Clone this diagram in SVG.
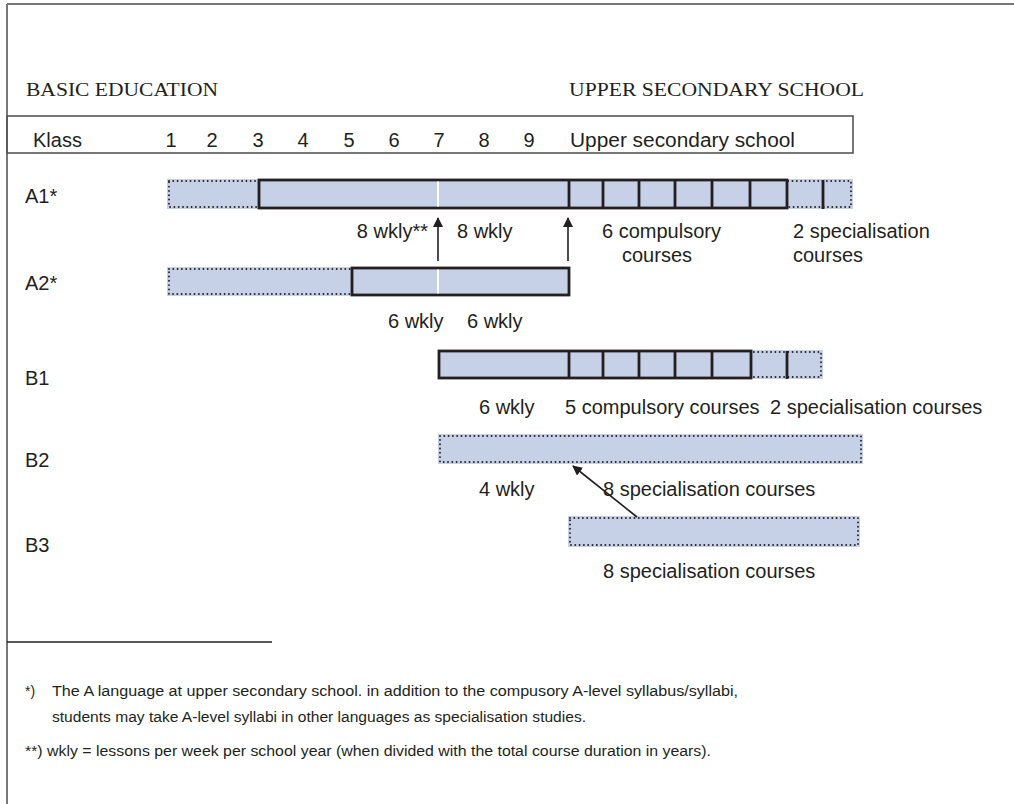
<svg xmlns="http://www.w3.org/2000/svg" width="1014" height="804" viewBox="0 0 1014 804">
<defs>
<style>
.t{font-family:"Liberation Sans",Arial,sans-serif;font-size:20px;fill:#231f20}
.h{font-family:"Liberation Serif","Times New Roman",serif;font-size:18px;fill:#231f20}
.f{font-family:"Liberation Sans",Arial,sans-serif;font-size:14px;fill:#231f20}
.fill{fill:#c6d0e7;stroke:none}
.dot{fill:none;stroke:#231f20;stroke-width:1.9;stroke-dasharray:0 4.3;stroke-linecap:round}
.sol{fill:none;stroke:#231f20;stroke-width:2.8}
.div{stroke:#231f20;stroke-width:2.8}
.wl{stroke:#ffffff;stroke-width:2}
.ar{stroke:#231f20;stroke-width:1.6;fill:none}
</style>
<marker id="ah" markerWidth="10" markerHeight="10" refX="9" refY="5" orient="auto" markerUnits="userSpaceOnUse" viewBox="0 0 10 10">
<path d="M0,0 L10,5 L0,10 z" fill="#231f20"/>
</marker>
</defs>
<rect width="1014" height="804" fill="#ffffff"/>
<g id="frame">
<line x1="7" y1="4" x2="1014" y2="4" stroke="#777" stroke-width="2"/>
<line x1="7" y1="4" x2="7" y2="804" stroke="#777" stroke-width="2"/>
</g>
<g id="headings">
<text class="h" x="26" y="96" textLength="192" lengthAdjust="spacingAndGlyphs">BASIC EDUCATION</text>
<text class="h" x="569" y="96" textLength="295" lengthAdjust="spacingAndGlyphs">UPPER SECONDARY SCHOOL</text>
</g>
<g id="header-row">
<rect x="7" y="116" width="846" height="37" fill="none" stroke="#555" stroke-width="1.6"/>
<text class="t" x="33" y="147">Klass</text>
<g text-anchor="middle">
<text class="t" x="171" y="147">1</text>
<text class="t" x="212" y="147">2</text>
<text class="t" x="258" y="147">3</text>
<text class="t" x="303" y="147">4</text>
<text class="t" x="349" y="147">5</text>
<text class="t" x="394" y="147">6</text>
<text class="t" x="439" y="147">7</text>
<text class="t" x="484" y="147">8</text>
<text class="t" x="529" y="147">9</text>
</g>
<text class="t" x="570" y="147" textLength="225" lengthAdjust="spacingAndGlyphs">Upper secondary school</text>
</g>
<g id="A1">
<text class="t" x="25" y="203">A1*</text>
<rect class="fill" x="167" y="179" width="686" height="30"/>
<rect class="dot" x="169" y="181" width="682" height="26"/>
<rect class="fill" x="259" y="180" width="528" height="28"/>
<rect class="sol" x="259" y="180" width="528" height="28"/>
<line class="wl" x1="438" y1="181.5" x2="438" y2="206.5"/>
<line class="div" x1="569" y1="180" x2="569" y2="208" stroke-width="3.4"/>
<line class="div" x1="603" y1="180" x2="603" y2="208"/>
<line class="div" x1="639" y1="180" x2="639" y2="208"/>
<line class="div" x1="675" y1="180" x2="675" y2="208"/>
<line class="div" x1="712" y1="180" x2="712" y2="208"/>
<line class="div" x1="750" y1="180" x2="750" y2="208"/>
<line class="div" x1="823" y1="180" x2="823" y2="209" stroke-width="3"/>
<text class="t" x="428" y="238" text-anchor="end">8 wkly**</text>
<text class="t" x="457" y="238">8 wkly</text>
<text class="t" x="602" y="238">6 compulsory</text>
<text class="t" x="622" y="262">courses</text>
<text class="t" x="793" y="238">2 specialisation</text>
<text class="t" x="793" y="262">courses</text>
</g>
<g id="A2">
<text class="t" x="25" y="290">A2*</text>
<rect class="fill" x="167" y="267" width="402" height="29"/>
<rect class="dot" x="169" y="269" width="398" height="25"/>
<rect class="fill" x="352" y="268" width="217" height="27"/>
<rect class="sol" x="352" y="268" width="217" height="27"/>
<line class="wl" x1="438" y1="269.5" x2="438" y2="293.5"/>
<text class="t" x="388" y="328">6  wkly</text>
<text class="t" x="467" y="328">6 wkly</text>
</g>
<g id="B1">
<text class="t" x="25" y="385">B1</text>
<rect class="fill" x="438" y="350" width="385" height="29"/>
<rect class="dot" x="440" y="352" width="381" height="25"/>
<rect class="fill" x="439" y="351" width="312" height="27"/>
<rect class="sol" x="439" y="351" width="312" height="27"/>
<line class="div" x1="569" y1="351" x2="569" y2="378"/>
<line class="div" x1="603" y1="351" x2="603" y2="378"/>
<line class="div" x1="639" y1="351" x2="639" y2="378"/>
<line class="div" x1="675" y1="351" x2="675" y2="378"/>
<line class="div" x1="712" y1="351" x2="712" y2="378"/>
<line class="div" x1="787" y1="351" x2="787" y2="379" stroke-width="3"/>
<text class="t" x="479" y="414">6 wkly</text>
<text class="t" x="565" y="414">5 compulsory courses</text>
<text class="t" x="770" y="414">2 specialisation courses</text>
</g>
<g id="B2">
<text class="t" x="25" y="467">B2</text>
<rect class="fill" x="438" y="434" width="425" height="30"/>
<rect class="dot" x="440" y="436" width="421" height="26"/>
<text class="t" x="479" y="496">4 wkly</text>
<text class="t" x="603" y="496">8 specialisation courses</text>
</g>
<g id="B3">
<text class="t" x="25" y="552">B3</text>
<rect class="fill" x="568" y="516" width="292" height="31"/>
<rect class="dot" x="570" y="518" width="288" height="27"/>
<text class="t" x="603" y="578">8 specialisation courses</text>
</g>
<g id="connectors">
<line class="ar" x1="438" y1="261" x2="438" y2="218" marker-end="url(#ah)"/>
<line class="ar" x1="568" y1="261" x2="568" y2="218" marker-end="url(#ah)"/>
<line class="ar" x1="637" y1="517" x2="573" y2="466" marker-end="url(#ah)"/>
</g>
<g id="footnotes">
<line x1="7" y1="642" x2="272" y2="642" stroke="#231f20" stroke-width="1.4"/>
<text class="f" x="25" y="696">*)</text>
<text class="f" x="52" y="696" textLength="686" lengthAdjust="spacingAndGlyphs">The A language at upper secondary school. in addition to the compusory A-level syllabus/syllabi,</text>
<text class="f" x="52" y="722" textLength="534" lengthAdjust="spacingAndGlyphs">students may take A-level syllabi in other languages as specialisation studies.</text>
<text class="f" x="25" y="756" textLength="686" lengthAdjust="spacingAndGlyphs">**) wkly = lessons per week per school year (when divided with the total course duration in years).</text>
</g>
</svg>
